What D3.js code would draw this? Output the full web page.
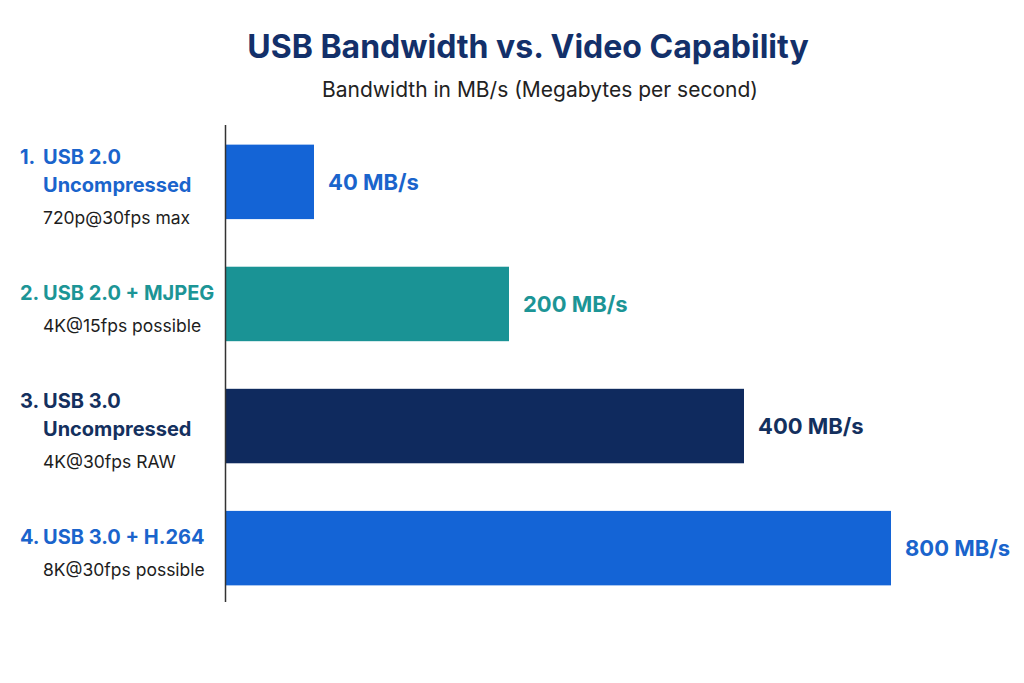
<!DOCTYPE html>
<html lang="en">
<head>
    <meta charset="UTF-8">
    <title>USB Bandwidth vs. Video Capability</title>
    <script src="https://cdn.jsdelivr.net/npm/d3@7/dist/d3.min.js"></script>
    <style>
        body { margin: 0; background: #fff; }
        text { font-family: Inter, "Open Sans", sans-serif; }
    </style>
</head>
<body>
<div class="chart"></div>
<script>
    const width = 1024
    const height = 683

    // data
    const numbers = ['1.', '2.', '3.', '4.']
    const titles = [
        ['USB 2.0', 'Uncompressed'],
        ['USB 2.0 + MJPEG'],
        ['USB 3.0', 'Uncompressed'],
        ['USB 3.0 + H.264']
    ]
    const notes = ['720p@30fps max', '4K@15fps possible', '4K@30fps RAW', '8K@30fps possible']
    const values = [40, 200, 400, 800]
    const colors = ['#1464d6', '#1a9395', '#0f2a5e', '#1464d6']
    const labelColors = ['#1a64cc', '#1c9596', '#14305e', '#1a64cc']

    const x0 = 226
    // bar lengths in the source are not proportional; stops follow the picture
    const xScale = d3.scaleLinear()
        .domain([0, 40, 200, 400, 800])
        .range([x0, x0 + 88, x0 + 283, x0 + 518, x0 + 665])

    const yScale = d3.scaleBand()
        .domain(d3.range(values.length))
        .range([108, 622])
        .paddingInner(0.39)
        .paddingOuter(0.3)

    const svg = d3.select('.chart')
        .append('svg')
        .attr('width', width)
        .attr('height', height)

    svg.append('text')
        .attr('x', 528)
        .attr('y', 47)
        .attr('dy', '0.35em')
        .attr('text-anchor', 'middle')
        .attr('font-size', '32px')
        .attr('font-weight', 700)
        .attr('fill', '#13306a')
        .text('USB Bandwidth vs. Video Capability')

    svg.append('text')
        .attr('x', 540)
        .attr('y', 90)
        .attr('dy', '0.35em')
        .attr('text-anchor', 'middle')
        .attr('font-size', '21px')
        .attr('fill', '#222')
        .text('Bandwidth in MB/s (Megabytes per second)')

    // bars
    svg.selectAll('.bar')
        .data(values)
        .enter()
        .append('rect')
        .attr('class', 'bar')
        .attr('x', xScale(0))
        .attr('y', (d, i) => yScale(i))
        .attr('width', d => xScale(d) - xScale(0))
        .attr('height', yScale.bandwidth())
        .attr('fill', (d, i) => colors[i])

    // value labels
    svg.selectAll('.value')
        .data(values)
        .enter()
        .append('text')
        .attr('class', 'value')
        .attr('x', d => xScale(d) + 14)
        .attr('y', (d, i) => yScale(i) + yScale.bandwidth() / 2)
        .attr('dy', '0.35em')
        .attr('font-size', '22px')
        .attr('font-weight', 700)
        .attr('fill', (d, i) => labelColors[i])
        .text(d => d + ' MB/s')

    // category labels
    const groups = svg.selectAll('.cat')
        .data(values)
        .enter()
        .append('g')
        .attr('class', 'cat')
        .attr('transform', (d, i) => `translate(0, ${yScale(i) + yScale.bandwidth() / 2})`)

    groups.each(function (d, i) {
        const g = d3.select(this)
        const lines = titles[i]
        const top = lines.length === 2 ? -25 : -11
        g.append('text')
            .attr('x', 20)
            .attr('y', top)
            .attr('dy', '0.35em')
            .attr('font-size', '20px')
            .attr('font-weight', 700)
            .attr('fill', labelColors[i])
            .text(numbers[i])
        lines.forEach((line, j) => {
            g.append('text')
                .attr('x', 43)
                .attr('y', top + j * 28)
                .attr('dy', '0.35em')
                .attr('font-size', '20px')
                .attr('font-weight', 700)
                .attr('fill', labelColors[i])
                .text(line)
        })
        g.append('text')
            .attr('x', 43)
            .attr('y', top + (lines.length - 1) * 28 + 33)
            .attr('dy', '0.35em')
            .attr('font-size', '17.5px')
            .attr('fill', '#1d1d1d')
            .text(notes[i])
    })

    // vertical axis line
    svg.append('line')
        .attr('x1', 225.5)
        .attr('x2', 225.5)
        .attr('y1', 125)
        .attr('y2', 602)
        .attr('stroke', '#333')
        .attr('stroke-width', 1.5)
</script>
</body>
</html>
